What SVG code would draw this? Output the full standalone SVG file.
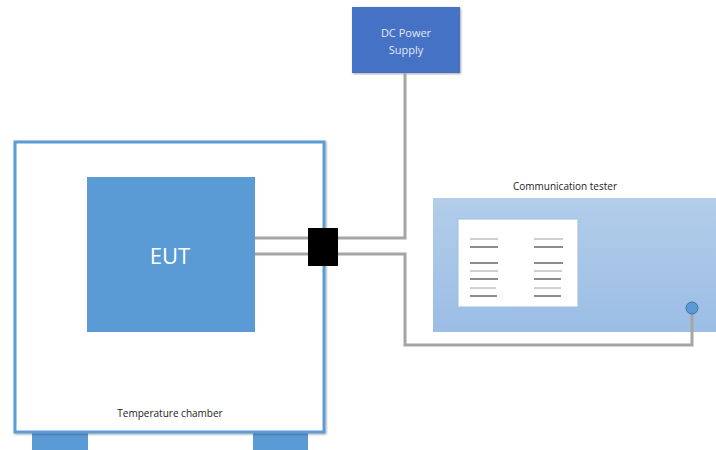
<svg xmlns="http://www.w3.org/2000/svg" width="716" height="450" viewBox="0 0 716 450">
<defs>
<linearGradient id="tg" x1="0" y1="0" x2="0" y2="1">
<stop offset="0" stop-color="#B3CDEA"/>
<stop offset="1" stop-color="#9BBDE5"/>
</linearGradient>
<filter id="sh" x="-5%" y="-5%" width="110%" height="110%">
<feDropShadow dx="1" dy="1" stdDeviation="1" flood-color="#000" flood-opacity="0.35"/>
</filter>
</defs>
<style>
text{font-family:"Open Sans","Liberation Sans",sans-serif}
.wire{fill:none;stroke:#A5A5A5;stroke-width:3}
.sl{stroke-width:2}
.lt{stroke:#D0D0D0}
.dk{stroke:#8C8C8C}
</style>
<rect width="716" height="450" fill="#fff"/>
<g id="chamber">
<rect x="32" y="433" width="56" height="17" fill="#5B9BD5"/>
<rect x="253" y="433" width="55" height="17" fill="#5B9BD5"/>
<rect x="15" y="142" width="309" height="290" fill="#fff" stroke="#5B9BD5" stroke-width="3" filter="url(#sh)"/>
<text x="170" y="417" font-size="10" text-anchor="middle" fill="#222">Temperature chamber</text>
</g>
<g id="eut">
<rect x="87" y="177" width="168" height="155" fill="#5B9BD5"/>
<text x="170" y="264" font-size="22" text-anchor="middle" fill="#fff">EUT</text>
</g>
<g id="dc-power">
<rect x="352" y="7" width="108" height="66" fill="#4472C4" filter="url(#sh)"/>
<text x="406" y="37" font-size="11" text-anchor="middle" fill="#E4E9F5">DC Power</text>
<text x="406" y="54" font-size="11" text-anchor="middle" fill="#E4E9F5">Supply</text>
</g>
<g id="tester">
<text x="565" y="190" font-size="10" text-anchor="middle" fill="#222">Communication tester</text>
<rect x="433" y="198" width="283" height="134" fill="url(#tg)"/>
<rect x="458" y="219" width="120" height="88" fill="#fff" stroke="#9BBDE5" stroke-width="1"/>
<g class="sl">
<line x1="470" y1="239" x2="498" y2="239" class="lt"/>
<line x1="534" y1="239" x2="563" y2="239" class="lt"/>
<line x1="470" y1="247" x2="498" y2="247" class="dk"/>
<line x1="534" y1="247" x2="563" y2="247" class="dk"/>
<line x1="470" y1="263" x2="498" y2="263" class="dk"/>
<line x1="534" y1="263" x2="563" y2="263" class="dk"/>
<line x1="470" y1="271" x2="498" y2="271" class="lt"/>
<line x1="534" y1="271" x2="562" y2="271" class="lt"/>
<line x1="470" y1="279" x2="498" y2="279" class="dk"/>
<line x1="534" y1="279" x2="561" y2="279" class="dk"/>
<line x1="470" y1="288" x2="496" y2="288" class="lt"/>
<line x1="534" y1="288" x2="561" y2="288" class="lt"/>
<line x1="470" y1="296" x2="497" y2="296" class="dk"/>
<line x1="534" y1="296" x2="561" y2="296" class="dk"/>
</g>
</g>
<g id="connectors">
<polyline class="wire" points="255,238 405,238 405,73"/>
<polyline class="wire" points="255,254 405,254 405,345 692,345 692,314"/>
</g>
<g id="feedthrough">
<rect x="308" y="228" width="30" height="38" fill="#000"/>
</g>
<g id="port">
<circle cx="692" cy="308" r="6" fill="#5B9BD5" stroke="#41719C" stroke-width="1"/>
</g>
</svg>
